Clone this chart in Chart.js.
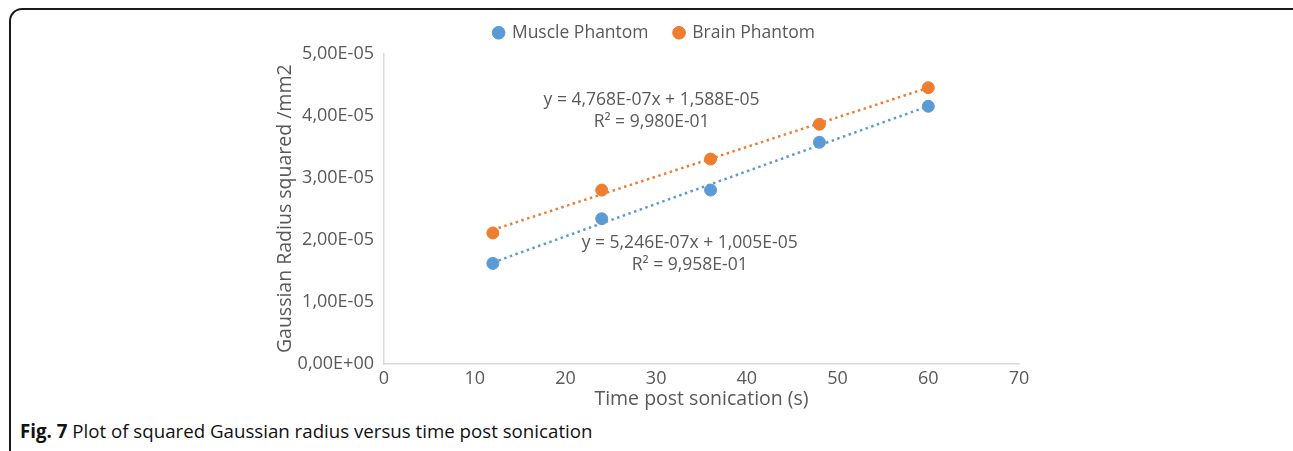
<!DOCTYPE html>
<html>
<head>
<meta charset="utf-8">
<script src="https://cdn.jsdelivr.net/npm/chart.js@4.4.0/dist/chart.umd.min.js"></script>
<style>
  html, body { margin: 0; padding: 0; background: #fff; }
  body { width: 1293px; height: 451px; position: relative; overflow: hidden; }
  .frame {
    position: absolute; left: 9px; top: 8px; width: 1300px; height: 470px;
    border: 2px solid #1a1a1a; border-radius: 13px; box-sizing: border-box;
  }
  #wrap { position: absolute; left: 0; top: -2px; width: 1293px; height: 413px; }
  .caption {
    position: absolute; left: 20px; top: 418px;
    font-family: "Open Sans", sans-serif; font-size: 18.7px; color: #111;
    white-space: nowrap;
  }
  .caption b { font-weight: bold; }
</style>
</head>
<body>
<div class="frame"></div>
<div id="wrap"><canvas id="myChart"></canvas></div>
<div class="caption"><b>Fig. 7</b> Plot of squared Gaussian radius versus time post sonication</div>
<script>
const times = [12, 24, 36, 48, 60];
const muscle = [1.62e-5, 2.34e-5, 2.80e-5, 3.57e-5, 4.15e-5];
const brain = [2.11e-5, 2.80e-5, 3.30e-5, 3.86e-5, 4.45e-5];

// trendline coefficients from the regression labels
const muscleFit = [5.246e-7, 1.005e-5];
const brainFit = [4.768e-7, 1.588e-5];
const muscleLabel = ['y = 5,246E-07x + 1,005E-05', 'R² = 9,958E-01'];
const brainLabel = ['y = 4,768E-07x + 1,588E-05', 'R² = 9,980E-01'];

const xTicks = [0, 10, 20, 30, 40, 50, 60, 70];
const yTicks = ['0,00E+00', '1,00E-05', '2,00E-05', '3,00E-05', '4,00E-05', '5,00E-05'];

const blue = '#5B9BD5';
const orange = '#ED7D31';
const grey = '#595959';
const font = '"Open Sans"';

const pts = (ys) => times.map((t, i) => ({ x: t, y: ys[i] }));
const fitLine = (f) => [times[0], times[times.length - 1]].map(t => ({ x: t, y: f[0] * t + f[1] }));

// equation text near each trendline
const eqLabels = {
  id: 'eqLabels',
  afterDatasetsDraw(chart) {
    const { ctx, scales } = chart;
    const put = (lines, x, y) => {
      const px = scales.x.getPixelForValue(x);
      const py = scales.y.getPixelForValue(y);
      ctx.save();
      ctx.font = '17.5px ' + font;
      ctx.fillStyle = grey;
      ctx.textAlign = 'center';
      ctx.textBaseline = 'middle';
      ctx.fillText(lines[0], px, py);
      ctx.fillText(lines[1], px, py + 22);
      ctx.restore();
    };
    put(brainLabel, 29.5, 4.25e-5);
    put(muscleLabel, 33.7, 1.955e-5);
  }
};

// a bit more room under the legend
const legendGap = {
  id: 'legendGap',
  beforeInit(chart) {
    const fit = chart.legend.fit;
    chart.legend.fit = function () {
      fit.bind(chart.legend)();
      this.height += 2;
    };
  }
};

const ctx = document.getElementById('myChart').getContext('2d');
const myChart = new Chart(ctx, {
  type: 'scatter',
  data: {
    datasets: [
      {
        label: 'Muscle Phantom', data: pts(muscle), order: 1,
        backgroundColor: blue, borderColor: blue, pointRadius: 6, pointHoverRadius: 6
      },
      {
        label: 'Brain Phantom', data: pts(brain), order: 1,
        backgroundColor: orange, borderColor: orange, pointRadius: 6, pointHoverRadius: 6
      },
      {
        label: 'muscle fit', data: fitLine(muscleFit), type: 'line', order: 2,
        borderColor: blue, borderWidth: 2.5, borderDash: [2.5, 3.5], pointRadius: 0, fill: false
      },
      {
        label: 'brain fit', data: fitLine(brainFit), type: 'line', order: 2,
        borderColor: orange, borderWidth: 2.5, borderDash: [2.5, 3.5], pointRadius: 0, fill: false
      }
    ]
  },
  options: {
    responsive: true,
    maintainAspectRatio: false,
    animation: false,
    layout: { padding: { left: 290, right: 274, top: 0, bottom: 0 } },
    plugins: {
      tooltip: { enabled: false },
      legend: {
        position: 'top',
        labels: {
          filter: (item) => item.datasetIndex < 2,
          usePointStyle: true, pointStyle: 'circle', boxWidth: 9, boxHeight: 9,
          color: grey, font: { family: font, size: 17.5 }, padding: 26
        }
      }
    },
    scales: {
      x: {
        type: 'linear', min: 0, max: 70,
        afterBuildTicks: (s) => { s.ticks = xTicks.map(v => ({ value: v })); },
        grid: { display: false, drawTicks: false },
        border: { color: '#d9d9d9', width: 1.5 },
        ticks: { color: grey, font: { family: font, size: 18 }, padding: 4 },
        title: { display: true, text: 'Time post sonication (s)', color: grey, font: { family: font, size: 19.5 }, padding: { top: -6, bottom: 0 } }
      },
      y: {
        type: 'linear', min: 0, max: 5e-5,
        afterBuildTicks: (s) => { s.ticks = yTicks.map((t, i) => ({ value: i * 1e-5 })); },
        afterFit: (s) => { s.width = 94; },
        grid: { display: false, drawTicks: false },
        border: { color: '#d9d9d9', width: 1.5 },
        ticks: { color: grey, font: { family: font, size: 18 }, padding: 10,
          callback: (v, i) => yTicks[i] },
        title: { display: true, text: 'Gaussian Radius squared /mm2', color: grey, font: { family: font, size: 19.5 }, padding: { top: -16, bottom: 0 } }
      }
    }
  },
  plugins: [eqLabels, legendGap]
});
</script>
</body>
</html>
